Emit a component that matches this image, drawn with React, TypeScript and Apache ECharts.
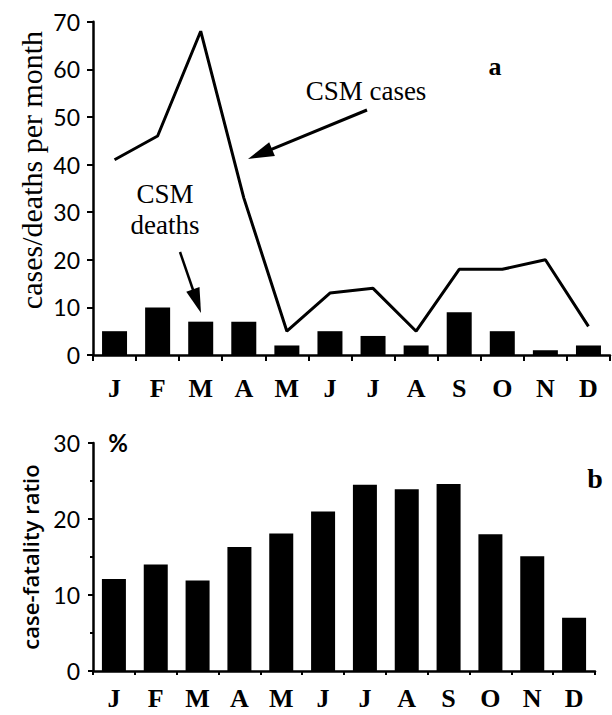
import React, { useEffect, useRef } from "react";
import * as echarts from "echarts";

const months = ["J", "F", "M", "A", "M", "J", "J", "A", "S", "O", "N", "D"];
const csmDeaths = [5, 10, 7, 7, 2, 5, 4, 2, 9, 5, 1, 2];
const csmCases = [41, 46, 68, 33, 5, 13, 14, 5, 18, 18, 20, 6];
const caseFatality = [12.1, 14, 11.9, 16.3, 18.1, 21, 24.5, 23.9, 24.6, 18, 15.1, 7];
const topTicks = { min: 0, max: 70, interval: 10 };
const bottomTicks = { min: 0, max: 30, interval: 10 };

const SERIF = "'Liberation Serif', 'DejaVu Serif', serif";
const SANS = "Lato, 'Open Sans', sans-serif";
const SANS_WIDE = "'Open Sans', 'DejaVu Sans', sans-serif";

function arrow(tail: number[], tip: number[], headLen: number, halfW: number, lw: number) {
  const dx = tip[0] - tail[0];
  const dy = tip[1] - tail[1];
  const len = Math.sqrt(dx * dx + dy * dy);
  const ux = dx / len;
  const uy = dy / len;
  const bx = tip[0] - ux * headLen;
  const by = tip[1] - uy * headLen;
  const nx = -uy;
  const ny = ux;
  return [
    {
      type: "line",
      shape: { x1: tail[0], y1: tail[1], x2: bx + ux * 2, y2: by + uy * 2 },
      style: { stroke: "#000", lineWidth: lw },
    },
    {
      type: "polygon",
      shape: {
        points: [
          [tip[0], tip[1]],
          [bx + nx * halfW, by + ny * halfW],
          [bx - nx * halfW, by - ny * halfW],
        ],
      },
      style: { fill: "#000" },
    },
  ];
}

export default function App() {
  const ref = useRef<HTMLDivElement>(null);
  useEffect(() => {
    if (!ref.current) return;
    const chart = echarts.init(ref.current, undefined, { renderer: "svg" });
    const axisLine = { show: true, lineStyle: { color: "#000", width: 2.5 } };
    const option: any = {
      animation: false,
      backgroundColor: "#fff",
      grid: [
        { left: 93, top: 21.7, width: 517, height: 333.3 },
        { left: 93, top: 443, width: 502, height: 228 },
      ],
      xAxis: [
        {
          type: "category",
          gridIndex: 0,
          data: months,
          boundaryGap: true,
          axisLine,
          axisTick: { show: true, length: 6, lineStyle: { color: "#000", width: 2 } },
          axisLabel: { color: "#000", fontFamily: SERIF, fontWeight: "bold", fontSize: 26, margin: 20 },
          splitLine: { show: false },
        },
        {
          type: "category",
          gridIndex: 1,
          data: months,
          boundaryGap: true,
          axisLine,
          axisTick: { show: true, length: 4, lineStyle: { color: "#000", width: 2 } },
          axisLabel: { color: "#000", fontFamily: SERIF, fontWeight: "bold", fontSize: 26, margin: 14 },
          splitLine: { show: false },
        },
      ],
      yAxis: [
        {
          type: "value",
          gridIndex: 0,
          min: topTicks.min,
          max: topTicks.max,
          interval: topTicks.interval,
          axisLine,
          axisTick: { show: true, length: 6, lineStyle: { color: "#000", width: 2 } },
          axisLabel: { color: "#000", fontFamily: SANS, fontSize: 23, margin: 13 },
          splitLine: { show: false },
        },
        {
          type: "value",
          gridIndex: 1,
          min: bottomTicks.min,
          max: bottomTicks.max,
          interval: bottomTicks.interval,
          axisLine,
          axisTick: { show: true, length: 5, lineStyle: { color: "#000", width: 2 } },
          minorTick: { show: true, splitNumber: 2, length: 3, lineStyle: { color: "#000", width: 2 } },
          axisLabel: { color: "#000", fontFamily: SANS, fontSize: 23, margin: 13 },
          splitLine: { show: false },
        },
      ],
      series: [
        {
          name: "CSM deaths",
          type: "bar",
          xAxisIndex: 0,
          yAxisIndex: 0,
          data: csmDeaths,
          barWidth: 25,
          itemStyle: { color: "#000" },
          z: 2,
        },
        {
          name: "CSM cases",
          type: "line",
          xAxisIndex: 0,
          yAxisIndex: 0,
          data: csmCases,
          symbol: "none",
          lineStyle: { color: "#000", width: 3 },
          z: 3,
        },
        {
          name: "case-fatality ratio",
          type: "bar",
          xAxisIndex: 1,
          yAxisIndex: 1,
          data: caseFatality,
          barWidth: 24,
          itemStyle: { color: "#000" },
        },
      ],
      graphic: [
        {
          type: "text",
          x: 31,
          y: 170,
          rotation: Math.PI / 2,
          style: {
            text: "cases/deaths per month",
            fontFamily: SERIF,
            fontSize: 30,
            fill: "#000",
            align: "center",
            verticalAlign: "middle",
          },
        },
        {
          type: "text",
          x: 30,
          y: 557,
          rotation: Math.PI / 2,
          style: {
            text: "case-fatality ratio",
            fontFamily: SANS_WIDE,
            fontWeight: 600,
            fontSize: 22,
            fill: "#000",
            align: "center",
            verticalAlign: "middle",
          },
        },
        {
          type: "text",
          x: 366,
          y: 91,
          style: { text: "CSM cases", fontFamily: SERIF, fontSize: 27, fill: "#000", align: "center", verticalAlign: "middle" },
        },
        {
          type: "text",
          x: 495,
          y: 66,
          style: { text: "a", fontFamily: SERIF, fontWeight: "bold", fontSize: 26, fill: "#000", align: "center", verticalAlign: "middle" },
        },
        {
          type: "text",
          x: 165,
          y: 194,
          style: { text: "CSM", fontFamily: SERIF, fontSize: 27, fill: "#000", align: "center", verticalAlign: "middle" },
        },
        {
          type: "text",
          x: 165,
          y: 225,
          style: { text: "deaths", fontFamily: SERIF, fontSize: 27, fill: "#000", align: "center", verticalAlign: "middle" },
        },
        {
          type: "text",
          x: 118,
          y: 442,
          style: { text: "%", fontFamily: SANS, fontWeight: "bold", fontSize: 24, fill: "#000", align: "center", verticalAlign: "middle" },
        },
        {
          type: "text",
          x: 595,
          y: 478,
          style: { text: "b", fontFamily: SERIF, fontWeight: "bold", fontSize: 28, fill: "#000", align: "center", verticalAlign: "middle" },
        },
        ...arrow([367, 110], [248, 159], 26, 7.5, 3),
        ...arrow([180, 252], [201, 313], 25, 7, 2.5),
      ],
    };
    chart.setOption(option);
    return () => chart.dispose();
  }, []);
  return (
    <div
      ref={ref}
      style={{ position: "absolute", left: 0, top: 0, width: 612, height: 715 }}
    />
  );
}
